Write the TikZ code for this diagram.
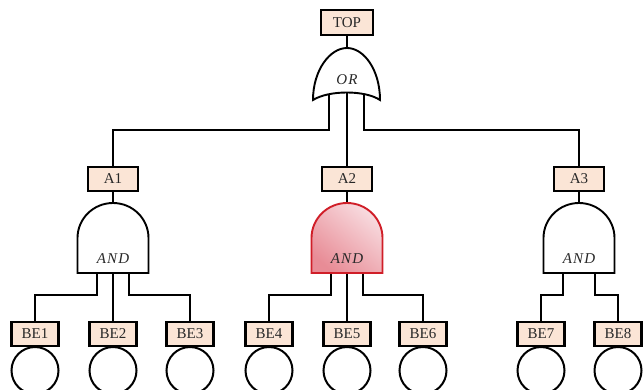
\documentclass[tikz,border=0pt]{standalone}
\usepackage{fontspec}
\setmainfont{Liberation Serif}
\newfontfamily\gatefont[LetterSpace=8]{Liberation Serif}
\usetikzlibrary{backgrounds}
\definecolor{boxfill}{RGB}{251,229,214}
\definecolor{gatered}{RGB}{208,30,40}
\definecolor{pinklight}{RGB}{248,220,224}
\definecolor{pinkdark}{RGB}{232,140,150}
\definecolor{inkgray}{RGB}{40,40,40}
\begin{document}
\begin{tikzpicture}[x=1pt,y=-1pt,line width=1.8pt,
  wire/.style={line width=1.8pt},
  lbl/.style={draw, fill=boxfill, line width=2.2pt, minimum height=24pt, inner sep=0pt,
              text=inkgray, font=\fontsize{15}{15}\selectfont},
  evlbl/.style={lbl, minimum width=47pt},
  gtlbl/.style={lbl, minimum width=50pt},
  basic/.style={circle, draw, line width=2pt, minimum size=47pt, inner sep=0pt, anchor=north},
  gatetxt/.style={text=inkgray, font=\gatefont\itshape\fontsize{15}{15}\selectfont, inner sep=0pt},
  plaingate/.style={draw, fill=white, line width=1.9pt},
  andgate/.pic={
    \path[pic actions] (-35.5,0) -- (-35.5,-35)
      arc[start angle=180, end angle=360, x radius=35.5, y radius=35]
      -- (35.5,0) -- cycle;
    \coordinate (-top) at (0,-70);
    \coordinate (-l) at (-16,-5);
    \coordinate (-c) at (0,-5);
    \coordinate (-r) at (16,-5);
    \node[gatetxt] (-txt) at (0,-14) {AND};
  },
  orgate/.pic={
    \path[pic actions] (-34,0) .. controls (-34,-30) and (-17,-52) .. (0,-52)
      .. controls (17,-52) and (33,-30) .. (33,0)
      .. controls (18,-10) and (-18,-10) .. (-34,0) -- cycle;
    \coordinate (-top) at (0,-52);
    \coordinate (-l) at (-18,-15);
    \coordinate (-c) at (0,-15);
    \coordinate (-r) at (17,-15);
    \node[gatetxt] (-txt) at (0,-20) {OR};
  }
]
\useasboundingbox (0,0) rectangle (643,389);

% event labels
\node[lbl, minimum width=52pt, minimum height=25pt] (TOP) at (347,22.5) {TOP};
\node[gtlbl] (A1) at (113,179) {A1};
\node[gtlbl] (A2) at (347,179) {A2};
\node[gtlbl] (A3) at (579,179) {A3};

% gates
\pic[plaingate] (og) at (347,100) {orgate};
\pic[plaingate] (g1) at (113,273) {andgate};
\pic[draw=gatered, line width=1.9pt, top color=pinklight, bottom color=pinkdark, shading angle=-40] (g2) at (347,273) {andgate};
\pic[plaingate] (g3) at (579,273) {andgate};

% basic events
\foreach \n/\x in {1/35,2/113,3/190,4/269,5/347,6/423,7/541,8/618}{
  \node[basic] (c\n) at (\x,346) {};
  \node[evlbl] (BE\n) at (\x,334) {BE\n};
}

\coordinate (busA) at (0,130);
\coordinate (busB) at (0,295);

\begin{pgfonlayer}{background}
  \begin{scope}[wire]
  \draw (TOP.south) -- (og-top);
  \draw (og-l) -- (og-l |- busA) -| (A1.north);
  \draw (og-c) -- (A2.north);
  \draw (og-r) -- (og-r |- busA) -| (A3.north);

  \draw (A1.south) -- (g1-top);
  \draw (A2.south) -- (g2-top);
  \draw (A3.south) -- (g3-top);

  \draw (g1-l) -- (g1-l |- busB) -| (BE1.north);
  \draw (g1-c) -- (BE2.north);
  \draw (g1-r) -- (g1-r |- busB) -| (BE3.north);

  \draw (g2-l) -- (g2-l |- busB) -| (BE4.north);
  \draw (g2-c) -- (BE5.north);
  \draw (g2-r) -- (g2-r |- busB) -| (BE6.north);

  \draw (g3-l) -- (g3-l |- busB) -| (BE7.north);
  \draw (g3-r) -- (g3-r |- busB) -| (BE8.north);
  \end{scope}
\end{pgfonlayer}
\end{tikzpicture}
\end{document}
